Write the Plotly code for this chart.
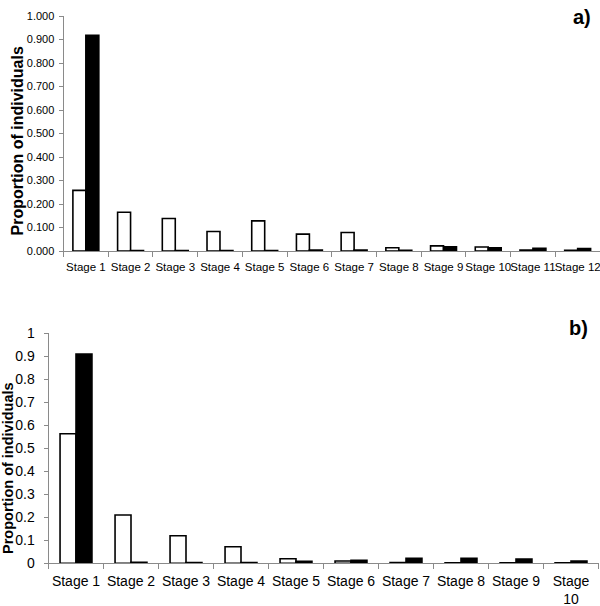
import plotly.graph_objects as go

stages_a = [f"Stage {i}" for i in range(1, 13)]
white_a = [0.258, 0.165, 0.138, 0.083, 0.128, 0.072, 0.079, 0.014, 0.022, 0.017, 0.004, 0.003]
black_a = [0.918, 0.002, 0.002, 0.002, 0.002, 0.004, 0.004, 0.003, 0.018, 0.014, 0.012, 0.010]

stages_b = [f"Stage {i}" for i in range(1, 10)] + ["Stage<br>10"]
white_b = [0.563, 0.210, 0.120, 0.072, 0.020, 0.010, 0.003, 0.002, 0.002, 0.002]
black_b = [0.910, 0.004, 0.003, 0.003, 0.009, 0.013, 0.022, 0.022, 0.019, 0.010]

yticks_a = [i / 10 for i in range(11)]
yticks_b = [i / 10 for i in range(11)]

FONT = "Liberation Sans, Arial, sans-serif"
AX = "#8a8a8a"

fig = go.Figure()
mk_w = dict(color="white", line=dict(color="black", width=1.6))
mk_b = dict(color="black", line=dict(color="black", width=1.6))
fig.add_trace(go.Bar(x=stages_a, y=white_a, marker=mk_w, xaxis="x", yaxis="y", showlegend=False))
fig.add_trace(go.Bar(x=stages_a, y=black_a, marker=mk_b, xaxis="x", yaxis="y", showlegend=False))
fig.add_trace(go.Bar(x=stages_b, y=white_b, marker=mk_w, xaxis="x2", yaxis="y2", showlegend=False))
fig.add_trace(go.Bar(x=stages_b, y=black_b, marker=mk_b, xaxis="x2", yaxis="y2", showlegend=False))

W, H = 600, 606

def px_x(p):
    return p / W

def px_y(p):
    return 1 - p / H

xcommon = dict(showline=True, linecolor=AX, linewidth=1, ticks="outside", tickcolor=AX,
               ticklen=5, tickson="boundaries", showgrid=False, zeroline=False,
               color="black", tickangle=0, automargin=False, ticklabelstandoff=5)
ycommon = dict(showline=True, linecolor=AX, linewidth=1, ticks="outside", tickcolor=AX,
               ticklen=4, showgrid=False, zeroline=False, range=[0, 1], color="black",
               automargin=False)

fig.update_layout(
    width=W, height=H,
    margin=dict(l=0, r=0, t=0, b=0),
    paper_bgcolor="white", plot_bgcolor="white",
    font=dict(family=FONT, color="black"),
    barmode="group", bargap=0.42, bargroupgap=0,
    xaxis=dict(domain=[px_x(63.5), px_x(600)], anchor="y", tickfont=dict(size=11.5), **xcommon),
    yaxis=dict(domain=[px_y(251), px_y(16)], anchor="x", tickvals=yticks_a,
               ticktext=[f"{v:.3f}" for v in yticks_a], tickfont=dict(size=11),
               ticklabelstandoff=2, **ycommon),
    xaxis2=dict(domain=[px_x(48.5), px_x(598.5)], anchor="y2", tickfont=dict(size=14), **xcommon),
    yaxis2=dict(domain=[px_y(563.3), px_y(333.3)], anchor="x2", tickvals=yticks_b,
                ticktext=[f"{v:g}" for v in yticks_b], tickfont=dict(size=14),
                ticklabelstandoff=6, **ycommon),
    annotations=[
        dict(text="<b>a)</b>", x=px_x(582), y=px_y(17), xref="paper", yref="paper",
             showarrow=False, font=dict(size=20, family=FONT), xanchor="center", yanchor="middle"),
        dict(text="<b>b)</b>", x=px_x(578), y=px_y(328), xref="paper", yref="paper",
             showarrow=False, font=dict(size=20, family=FONT), xanchor="center", yanchor="middle"),
        dict(text="<b>Proportion of individuals</b>", x=px_x(17), y=px_y(141.5), xref="paper",
             yref="paper", showarrow=False, textangle=-90, font=dict(size=16, family=FONT),
             xanchor="center", yanchor="middle"),
        dict(text="<b>Proportion of individuals</b>", x=px_x(8.5), y=px_y(468.5), xref="paper",
             yref="paper", showarrow=False, textangle=-90, font=dict(size=14.5, family=FONT),
             xanchor="center", yanchor="middle"),
    ],
)

fig.write_html("out.html", config={"displayModeBar": False},
               post_script="document.body.style.margin='0px';document.body.style.overflow='hidden';")
